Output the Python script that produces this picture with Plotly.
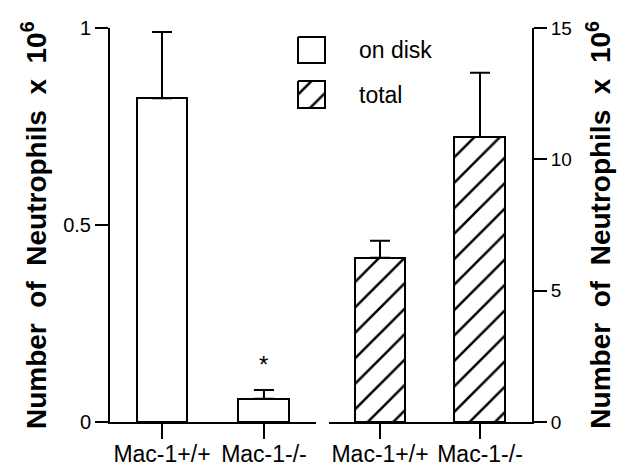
import plotly.graph_objects as go

categories = ["Mac-1+/+", "Mac-1-/-"]
on_disk = [0.822, 0.059]
on_disk_err = [0.168, 0.022]
total = [6.25, 10.85]
total_err = [0.65, 2.45]
left_ticks = [0, 0.5, 1]
left_ticklabels = ["0", "0.5", "1"]
right_ticks = [0, 5, 10, 15]
right_ticklabels = ["0", "5", "10", "15"]
legend_labels = ["on disk", "total"]
ytitle = "Number  of  Neutrophils  x  10<sup>6</sup>"

FONT = "Liberation Sans, Arial, Helvetica, sans-serif"
BLACK = "#000000"
HATCH = dict(shape="/", size=18, solidity=0.14, fgcolor=BLACK, fgopacity=1, bgcolor="white")

fig = go.Figure()

fig.add_trace(go.Bar(
    x=categories, y=on_disk, xaxis="x", yaxis="y", width=0.5,
    marker=dict(color="white", line=dict(color=BLACK, width=2)),
    error_y=dict(type="data", array=on_disk_err, arrayminus=[0, 0], symmetric=False,
                 color=BLACK, thickness=2, width=10),
    name=legend_labels[0], showlegend=False,
))
fig.add_trace(go.Bar(
    x=categories, y=total, xaxis="x2", yaxis="y2", width=0.51,
    marker=dict(color="white", line=dict(color=BLACK, width=2), pattern=HATCH),
    error_y=dict(type="data", array=total_err, arrayminus=[0, 0], symmetric=False,
                 color=BLACK, thickness=2, width=10),
    name=legend_labels[1], showlegend=False,
))

# custom legend keys (overlay axis in pixel-like units of the plot area)
box_x = [298, 325, 325, 298, 298]
fig.add_trace(go.Scatter(
    x=box_x, y=[37, 37, 63, 63, 37], xaxis="x3", yaxis="y3", mode="lines",
    fill="toself", fillcolor="white", line=dict(color=BLACK, width=2),
    hoverinfo="skip", showlegend=False,
))
fig.add_trace(go.Scatter(
    x=box_x, y=[81, 81, 108, 108, 81], xaxis="x3", yaxis="y3", mode="lines",
    fill="toself", fillcolor="white", fillpattern=HATCH,
    line=dict(color=BLACK, width=2), hoverinfo="skip", showlegend=False,
))

axis_common = dict(showline=True, linecolor=BLACK, linewidth=2, ticks="outside",
                   tickcolor=BLACK, tickwidth=2, showgrid=False, zeroline=False,
                   automargin=False, fixedrange=True)

fig.update_layout(
    width=625, height=470,
    margin=dict(l=102, r=101, t=20, b=56, autoexpand=False),
    paper_bgcolor="white", plot_bgcolor="rgba(0,0,0,0)",
    font=dict(family=FONT, color=BLACK),
    showlegend=False, bargap=0,
    xaxis=dict(domain=[0, 0.488], anchor="y", range=[-0.51, 1.51], ticklen=15,
               ticklabelstandoff=-5, tickfont=dict(size=23), **axis_common),
    xaxis2=dict(domain=[0.519, 1], anchor="y2", range=[-0.51, 1.52], ticklen=15,
                ticklabelstandoff=-5, tickfont=dict(size=23), **axis_common),
    yaxis=dict(domain=[0, 1], anchor="x", range=[0, 1], tickvals=left_ticks,
               ticktext=left_ticklabels, ticklen=13, tickfont=dict(size=20), **axis_common),
    yaxis2=dict(domain=[0, 1], anchor="x2", side="right", range=[0, 15],
                tickvals=right_ticks, ticktext=right_ticklabels, ticklen=13,
                tickfont=dict(size=19), **axis_common),
    xaxis3=dict(domain=[0, 1], range=[110, 532], visible=False, anchor="y3", fixedrange=True),
    yaxis3=dict(domain=[0, 1], range=[422, 28], visible=False, anchor="x3", fixedrange=True),
)

fig.add_annotation(x=357, y=50, xref="x3", yref="y3", text=legend_labels[0],
                   showarrow=False, xanchor="left", yanchor="middle", font=dict(size=23))
fig.add_annotation(x=357, y=95, xref="x3", yref="y3", text=legend_labels[1],
                   showarrow=False, xanchor="left", yanchor="middle", font=dict(size=23))

# significance star
fig.add_annotation(x=categories[1], y=on_disk[1] + on_disk_err[1], xref="x", yref="y",
                   text="*", showarrow=False, yanchor="bottom", yshift=10,
                   font=dict(size=24))

# y-axis titles
fig.add_annotation(x=-0.18, y=0.5, xref="paper", yref="paper", text=ytitle, textangle=-90,
                   showarrow=False, xanchor="center", yanchor="middle",
                   font=dict(size=28, family=FONT, weight="bold"))
fig.add_annotation(x=1.158, y=0.5, xref="paper", yref="paper", text=ytitle, textangle=-90,
                   showarrow=False, xanchor="center", yanchor="middle",
                   font=dict(size=28, family=FONT, weight="bold"))

fig.write_html("out.html")
